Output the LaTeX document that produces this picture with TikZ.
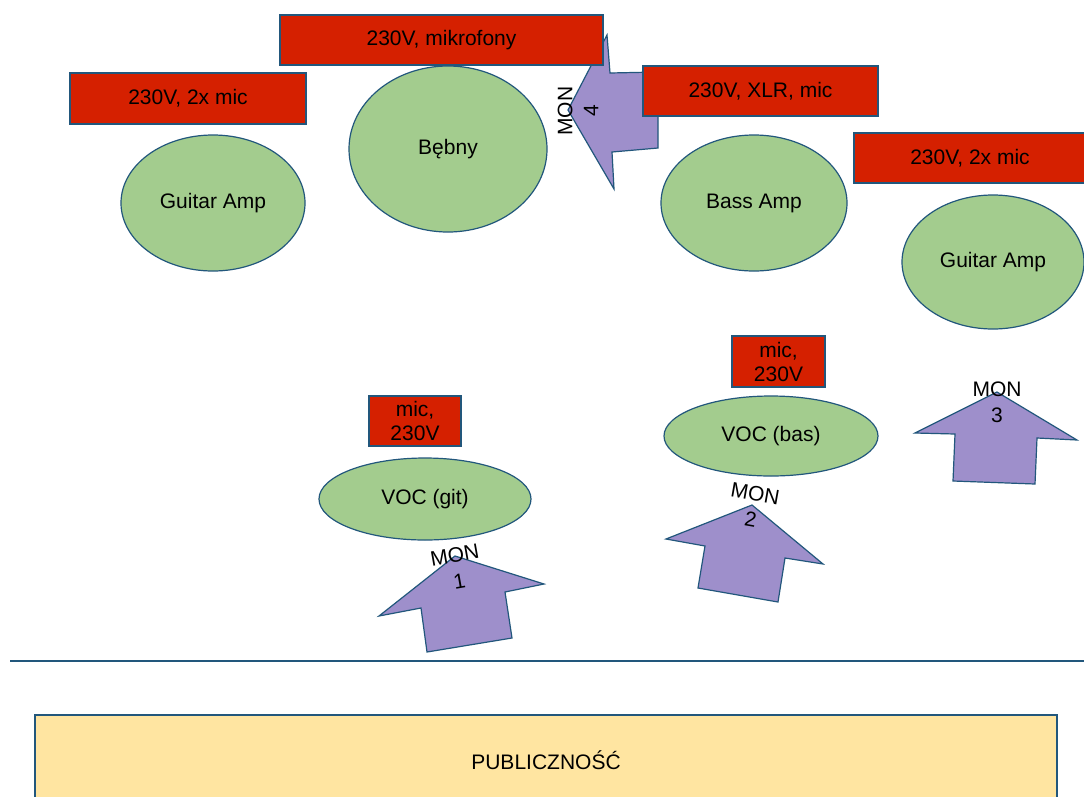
\documentclass[tikz,border=0pt]{standalone}
\usepackage{fontspec}
\setmainfont{Liberation Sans}
\usetikzlibrary{shapes.geometric}
\definecolor{redbox}{HTML}{D52000}
\definecolor{edgeblue}{HTML}{22577C}
\definecolor{greenfill}{HTML}{A3CC8E}
\definecolor{purplefill}{HTML}{9E8FCB}
\definecolor{yellowfill}{HTML}{FFE5A1}
\tikzset{
  every node/.style={font=\fontsize{21}{24}\selectfont, text=black},
  powerbox/.style={draw=edgeblue, fill=redbox, line width=1.2pt, rectangle, inner sep=0pt, align=center},
  ampell/.style={draw=edgeblue, fill=greenfill, line width=1.2pt, ellipse, inner sep=0pt},
  monarrow/.style={draw=edgeblue, fill=purplefill, line width=1.2pt, line join=miter},
  monlabel/.style={align=center, inner sep=0pt, font=\fontsize{21}{26}\selectfont},
  audience/.style={draw=edgeblue, fill=yellowfill, line width=1.2pt, rectangle, inner sep=0pt},
}
\begin{document}
\begin{tikzpicture}[x=1pt,y=-1pt]
\useasboundingbox[fill=white] (0,0) rectangle (1084,796);

% monitor arrows (behind boxes)
\draw[monarrow] (568,110) -- (607,35) -- (610,73) -- (658,72) -- (658,148) -- (612,152) -- (614,189) -- cycle;
\draw[monarrow] (455,556) -- (544,584) -- (505,592) -- (512,638) -- (427,652) -- (421,608) -- (379,616) -- cycle;
\draw[monarrow] (752,505) -- (823,564) -- (785,558) -- (778,602) -- (698,588) -- (705,546) -- (666,539) -- cycle;
\draw[monarrow] (997,392) -- (1077,440) -- (1037,438) -- (1035,484) -- (953,481) -- (955,434) -- (915,433) -- cycle;

% amps / drums / vocals
\node[ampell, minimum width=184pt, minimum height=136pt] (gampL) at (213,203) {Guitar Amp};
\node[ampell, minimum width=198pt, minimum height=166pt] (drums) at (448,149) {Bębny};
\node[ampell, minimum width=186pt, minimum height=136pt] (bamp) at (754,203) {Bass Amp};
\node[ampell, minimum width=182pt, minimum height=134pt] (gampR) at (993,262) {Guitar Amp};
\node[ampell, minimum width=212pt, minimum height=82pt] (vocgit) at (425,499) {VOC (git)};
\node[ampell, minimum width=214pt, minimum height=80pt] (vocbas) at (771,436) {VOC (bas)};

% power boxes
\node[powerbox, minimum width=236pt, minimum height=51pt] (pGL) at (188,98.5) {230V, 2x mic};
\node[powerbox, minimum width=323pt, minimum height=50pt] (pDr) at (441.5,40) {230V, mikrofony};
\node[powerbox, minimum width=235pt, minimum height=50pt] (pBA) at (760.5,91) {230V, XLR, mic};
\node[powerbox, minimum width=232pt, minimum height=50pt] (pGR) at (970,158) {230V, 2x mic};
\node[powerbox, minimum width=92pt, minimum height=50pt] (pVG) at (415,421) {mic,\\230V};
\node[powerbox, minimum width=93pt, minimum height=51pt] (pVB) at (778.5,361.5) {mic,\\230V};

% monitor labels
\node[monlabel, rotate=90] (m4) at (578,111) {MON\\4};
\node[monlabel, rotate=10] (m1) at (457,568) {MON\\1};
\node[monlabel, rotate=-10] (m2) at (753,506) {MON\\2};
\node[monlabel] (m3) at (997,402) {MON\\3};

% stage edge
\coordinate (edgeL) at (10,661);
\coordinate (edgeR) at (1084,661);
\draw[edgeblue, line width=1.5pt] (edgeL) -- (edgeR);

% audience
\node[audience, minimum width=1022pt, minimum height=90pt] (aud) at (546,760) {PUBLICZNOŚĆ};
\end{tikzpicture}
\end{document}
